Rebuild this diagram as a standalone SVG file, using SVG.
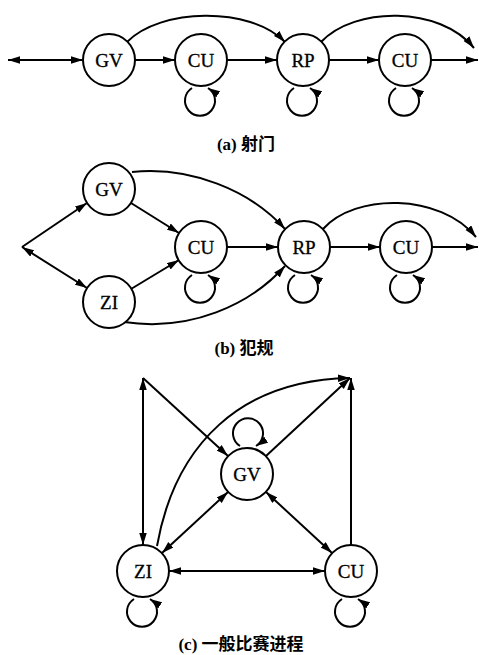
<svg xmlns="http://www.w3.org/2000/svg" width="479" height="655" viewBox="0 0 479 655">
<style>
.n{fill:#fff;stroke:#000;stroke-width:2}
.t{font-family:"Liberation Serif",serif;font-size:19px;text-anchor:middle;fill:#000;stroke:#000;stroke-width:0.3}
.e{fill:none;stroke:#000;stroke-width:2}
.cap{font-family:"Liberation Serif","Noto Sans CJK SC",serif;font-size:17px;font-weight:bold;text-anchor:middle;fill:#000}
</style>
<defs>
<marker id="ar" markerUnits="userSpaceOnUse" markerWidth="13" markerHeight="8" refX="12" refY="3.75" orient="auto-start-reverse">
<path d="M0,0 L12,3.75 L0,7.5 z" fill="#000"/>
</marker>
</defs>
<rect width="479" height="655" fill="#fff"/>
<g id="connectors">
<!-- (a) -->
<path class="e" d="M8,60 L83,60" marker-start="url(#ar)" marker-end="url(#ar)"/>
<path class="e" d="M135,60 L175,60" marker-end="url(#ar)"/>
<path class="e" d="M227,60 L277,60" marker-end="url(#ar)"/>
<path class="e" d="M329,60 L379,60" marker-end="url(#ar)"/>
<path class="e" d="M431,60 L478,60" marker-end="url(#ar)"/>
<path class="e" d="M127,42 C160,8 250,6 285,42" marker-end="url(#ar)"/>
<path class="e" d="M321,42 C355,6 440,6 474,48" marker-end="url(#ar)"/>
<path class="e" d="M192,88 A15,15 0 1 0 208,88" marker-end="url(#ar)"/>
<path class="e" d="M294,88 A15,15 0 1 0 310,88" marker-end="url(#ar)"/>
<path class="e" d="M396,88 A15,15 0 1 0 412,88" marker-end="url(#ar)"/>
<!-- (b) -->
<path class="e" d="M22,247 L87,203" marker-end="url(#ar)"/>
<path class="e" d="M22,247 L87,288" marker-start="url(#ar)" marker-end="url(#ar)"/>
<path class="e" d="M131,203 L179,233" marker-end="url(#ar)"/>
<path class="e" d="M131,289 L179,260" marker-end="url(#ar)"/>
<path class="e" d="M227,247 L278,247" marker-end="url(#ar)"/>
<path class="e" d="M330,247 L380,247" marker-end="url(#ar)"/>
<path class="e" d="M432,247 L478,247" marker-end="url(#ar)"/>
<path class="e" d="M132,172 C190,166 250,190 285,229" marker-end="url(#ar)"/>
<path class="e" d="M124,322 C190,332 250,305 285,266" marker-end="url(#ar)"/>
<path class="e" d="M323,229 C355,193 440,193 476,237" marker-end="url(#ar)"/>
<path class="e" d="M192,275 A15,15 0 1 0 208,275" marker-end="url(#ar)"/>
<path class="e" d="M295,275 A15,15 0 1 0 311,275" marker-end="url(#ar)"/>
<path class="e" d="M397,275 A15,15 0 1 0 413,275" marker-end="url(#ar)"/>
<!-- (c) -->
<path class="e" d="M143,378 L143,545" marker-start="url(#ar)" marker-end="url(#ar)"/>
<path class="e" d="M143,378 L228,456" marker-end="url(#ar)"/>
<path class="e" d="M157,546 C175,445 240,380 350,378" marker-end="url(#ar)"/>
<path class="e" d="M266,456 L350,378" marker-end="url(#ar)"/>
<path class="e" d="M351,545 L351,378" marker-end="url(#ar)"/>
<path class="e" d="M228,492 L162,553" marker-start="url(#ar)" marker-end="url(#ar)"/>
<path class="e" d="M266,492 L332,553" marker-start="url(#ar)" marker-end="url(#ar)"/>
<path class="e" d="M169,571 L325,571" marker-start="url(#ar)" marker-end="url(#ar)"/>
<path class="e" d="M240,446 A15,15 0 1 1 256,446" marker-end="url(#ar)"/>
<path class="e" d="M134,599 A15,15 0 1 0 150,599" marker-end="url(#ar)"/>
<path class="e" d="M342,599 A15,15 0 1 0 358,599" marker-end="url(#ar)"/>
</g>
<g id="a-GV"><circle class="n" cx="109" cy="60" r="26"/><text class="t" x="109" y="67">GV</text></g>
<g id="a-CU1"><circle class="n" cx="201" cy="60" r="26"/><text class="t" x="201" y="67">CU</text></g>
<g id="a-RP"><circle class="n" cx="303" cy="60" r="26"/><text class="t" x="303" y="67">RP</text></g>
<g id="a-CU2"><circle class="n" cx="405" cy="60" r="26"/><text class="t" x="405" y="67">CU</text></g>
<g id="b-GV"><circle class="n" cx="109" cy="189" r="26"/><text class="t" x="109" y="196">GV</text></g>
<g id="b-ZI"><circle class="n" cx="109" cy="302" r="26"/><text class="t" x="109" y="309">ZI</text></g>
<g id="b-CU1"><circle class="n" cx="201" cy="247" r="26"/><text class="t" x="201" y="254">CU</text></g>
<g id="b-RP"><circle class="n" cx="304" cy="247" r="26"/><text class="t" x="304" y="254">RP</text></g>
<g id="b-CU2"><circle class="n" cx="406" cy="247" r="26"/><text class="t" x="406" y="254">CU</text></g>
<g id="c-GV"><circle class="n" cx="247" cy="474" r="26"/><text class="t" x="247" y="481">GV</text></g>
<g id="c-ZI"><circle class="n" cx="143" cy="571" r="26"/><text class="t" x="143" y="578">ZI</text></g>
<g id="c-CU"><circle class="n" cx="351" cy="571" r="26"/><text class="t" x="351" y="578">CU</text></g>
<g id="captions">
<text class="cap" x="246" y="150">(a) 射门</text>
<text class="cap" x="244" y="354">(b) 犯规</text>
<text class="cap" x="241" y="650">(c) 一般比赛进程</text>
</g>
</svg>
